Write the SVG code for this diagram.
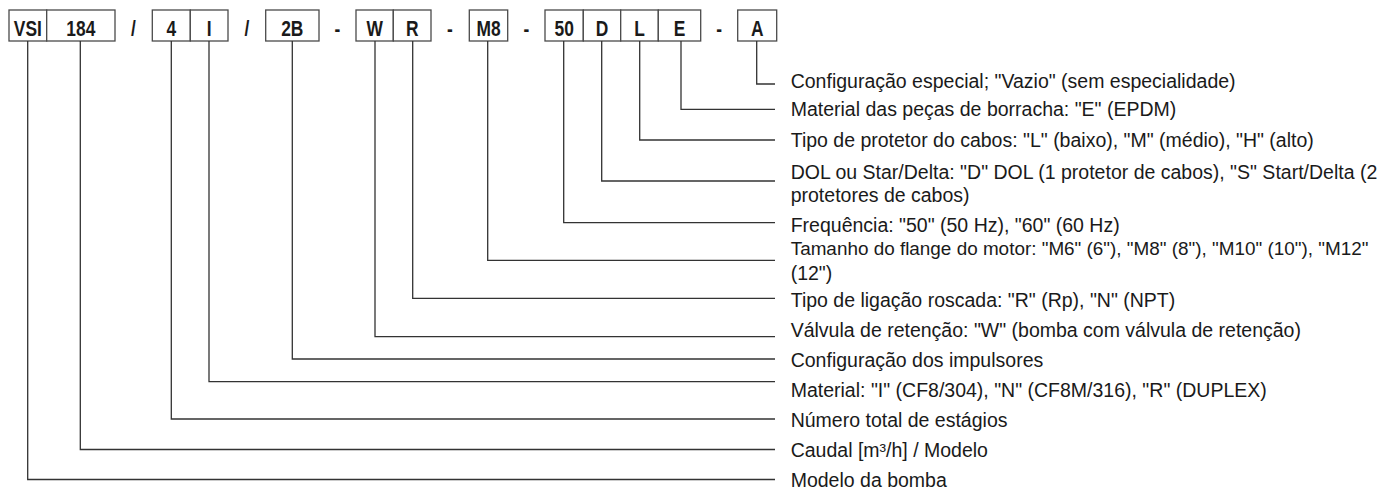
<svg xmlns="http://www.w3.org/2000/svg" width="1382" height="490" viewBox="0 0 1382 490">
<style>
  .box { fill: #ffffff; stroke: #4a4a4a; stroke-width: 1.3; }
  .code { font-family: "Liberation Sans", Arial, sans-serif; font-weight: bold; font-size: 22px; fill: #1a1a1a; text-anchor: middle; }
  .sep { font-family: "Liberation Sans", Arial, sans-serif; font-weight: bold; font-size: 22px; fill: #1a1a1a; text-anchor: middle; }
  .lbl { font-family: "Liberation Sans", Arial, sans-serif; font-size: 19.5px; fill: #1a1a1a; }
  .conn { fill: none; stroke: #333333; stroke-width: 1.3; }
</style>
<rect width="1382" height="490" fill="#ffffff"/>

<!-- code boxes -->
<g id="node-VSI"><rect class="box" x="9" y="10" width="37.7" height="31"/><text class="code" transform="translate(27.8,36) scale(0.79,1)">VSI</text></g>
<g id="node-184"><rect class="box" x="46.7" y="10" width="68.3" height="31"/><text class="code" transform="translate(80.8,36) scale(0.79,1)">184</text></g>
<g id="sep-1"><text class="sep" transform="translate(133.5,36) scale(0.79,1)">/</text></g>
<g id="node-4"><rect class="box" x="152.3" y="10" width="38" height="31"/><text class="code" transform="translate(171.3,36) scale(0.79,1)">4</text></g>
<g id="node-I"><rect class="box" x="190.3" y="10" width="37.7" height="31"/><text class="code" transform="translate(209.2,36) scale(0.79,1)">I</text></g>
<g id="sep-2"><text class="sep" transform="translate(246.8,36) scale(0.79,1)">/</text></g>
<g id="node-2B"><rect class="box" x="265.7" y="10" width="53.3" height="31"/><text class="code" transform="translate(292.3,36) scale(0.79,1)">2B</text></g>
<g id="sep-3"><text class="sep" transform="translate(337.5,36) scale(0.79,1)">-</text></g>
<g id="node-W"><rect class="box" x="356" y="10" width="37.3" height="31"/><text class="code" transform="translate(374.7,36) scale(0.79,1)">W</text></g>
<g id="node-R"><rect class="box" x="393.3" y="10" width="37.7" height="31"/><text class="code" transform="translate(412.2,36) scale(0.79,1)">R</text></g>
<g id="sep-4"><text class="sep" transform="translate(450,36) scale(0.79,1)">-</text></g>
<g id="node-M8"><rect class="box" x="469.3" y="10" width="38.4" height="31"/><text class="code" transform="translate(488.5,36) scale(0.79,1)">M8</text></g>
<g id="sep-5"><text class="sep" transform="translate(526.3,36) scale(0.79,1)">-</text></g>
<g id="node-50"><rect class="box" x="545" y="10" width="38.3" height="31"/><text class="code" transform="translate(564.2,36) scale(0.79,1)">50</text></g>
<g id="node-D"><rect class="box" x="583.3" y="10" width="37.4" height="31"/><text class="code" transform="translate(602,36) scale(0.79,1)">D</text></g>
<g id="node-L"><rect class="box" x="620.7" y="10" width="37.6" height="31"/><text class="code" transform="translate(639.5,36) scale(0.79,1)">L</text></g>
<g id="node-E"><rect class="box" x="658.3" y="10" width="42.4" height="31"/><text class="code" transform="translate(679.5,36) scale(0.79,1)">E</text></g>
<g id="sep-6"><text class="sep" transform="translate(719.2,36) scale(0.79,1)">-</text></g>
<g id="node-A"><rect class="box" x="737.7" y="10" width="39" height="31"/><text class="code" transform="translate(757.2,36) scale(0.79,1)">A</text></g>

<!-- connectors -->
<g id="connectors">
  <polyline class="conn" points="756.7,41 756.7,84 775,84"/>
  <polyline class="conn" points="681,41 681,109.3 775,109.3"/>
  <polyline class="conn" points="639.7,41 639.7,140 775,140"/>
  <polyline class="conn" points="601.7,41 601.7,181 775,181"/>
  <polyline class="conn" points="563.7,41 563.7,222.7 775,222.7"/>
  <polyline class="conn" points="487.7,41 487.7,260.3 775,260.3"/>
  <polyline class="conn" points="412.7,41 412.7,298.3 775,298.3"/>
  <polyline class="conn" points="375,41 375,336.7 775,336.7"/>
  <polyline class="conn" points="292.3,41 292.3,359 775,359"/>
  <polyline class="conn" points="209,41 209,381.7 775,381.7"/>
  <polyline class="conn" points="171.3,41 171.3,419 775,419"/>
  <polyline class="conn" points="80.3,41 80.3,449.5 775,449.5"/>
  <polyline class="conn" points="27.7,41 27.7,479.5 775,479.5"/>
</g>

<!-- labels -->
<g id="labels">
  <text class="lbl" x="790.7" y="88">Configuração especial; "Vazio" (sem especialidade)</text>
  <text class="lbl" x="790.7" y="116">Material das peças de borracha: "E" (EPDM)</text>
  <text class="lbl" x="790.7" y="147">Tipo de protetor do cabos: "L" (baixo), "M" (médio), "H" (alto)</text>
  <text class="lbl" x="790.7" y="179">DOL ou Star/Delta: "D" DOL (1 protetor de cabos), "S" Start/Delta (2</text>
  <text class="lbl" x="790.7" y="202">protetores de cabos)</text>
  <text class="lbl" x="790.7" y="232">Frequência: "50" (50 Hz), "60" (60 Hz)</text>
  <text class="lbl" x="790.7" y="255" style="font-size:18.9px">Tamanho do flange do motor: "M6" (6"), "M8" (8"), "M10" (10"), "M12"</text>
  <text class="lbl" x="790.7" y="280">(12")</text>
  <text class="lbl" x="790.7" y="307">Tipo de ligação roscada: "R" (Rp), "N" (NPT)</text>
  <text class="lbl" x="790.7" y="337">Válvula de retenção: "W" (bomba com válvula de retenção)</text>
  <text class="lbl" x="790.7" y="367">Configuração dos impulsores</text>
  <text class="lbl" x="790.7" y="397">Material: "I" (CF8/304), "N" (CF8M/316), "R" (DUPLEX)</text>
  <text class="lbl" x="790.7" y="427">Número total de estágios</text>
  <text class="lbl" x="790.7" y="457">Caudal [m³/h] / Modelo</text>
  <text class="lbl" x="790.7" y="487">Modelo da bomba</text>
</g>
</svg>
